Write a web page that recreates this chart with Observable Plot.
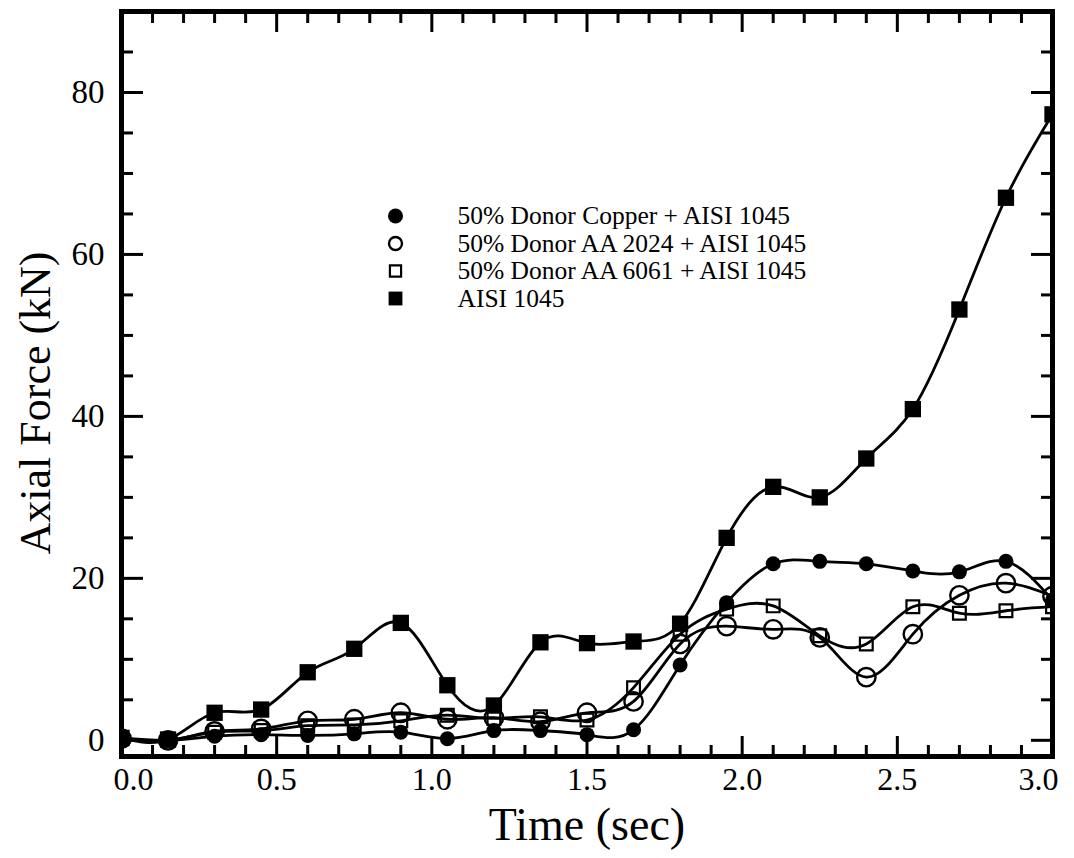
<!DOCTYPE html>
<html>
<head>
<meta charset="utf-8">
<script src="https://cdn.jsdelivr.net/npm/d3@7"></script>
<script src="https://cdn.jsdelivr.net/npm/@observablehq/plot@0.6"></script>
<style>
  html, body { margin: 0; padding: 0; background: white; }
  #chart svg { display: block; }
  #chart svg text { font-family: "Liberation Serif", "Times New Roman", serif; }
</style>
</head>
<body>
<div id="chart"></div>
<script>
// ---- data ----
const time = [0, 0.15, 0.3, 0.45, 0.6, 0.75, 0.9, 1.05, 1.2, 1.35, 1.5, 1.65, 1.8, 1.95, 2.1, 2.25, 2.4, 2.55, 2.7, 2.85, 3.0];
const copper = [0.3, 0.0, 0.5, 0.7, 0.6, 0.8, 1.0, 0.2, 1.2, 1.2, 0.7, 1.3, 9.3, 17.0, 21.8, 22.1, 21.8, 20.9, 20.8, 22.1, 17.3];
const aa2024 = [0.2, 0.0, 1.1, 1.4, 2.4, 2.6, 3.4, 2.6, 2.8, 2.3, 3.4, 4.8, 11.9, 14.1, 13.7, 12.7, 7.8, 13.1, 17.9, 19.4, 17.8];
const aa6061 = [0.2, 0.0, 1.0, 1.2, 1.8, 1.9, 2.4, 3.1, 2.7, 2.9, 2.5, 6.5, 13.1, 16.2, 16.6, 12.9, 11.9, 16.5, 15.7, 16.0, 16.5];
const aisi   = [0.3, 0.1, 3.4, 3.8, 8.4, 11.3, 14.5, 6.8, 4.3, 12.1, 12.0, 12.2, 14.4, 25.0, 31.3, 30.0, 34.8, 40.9, 53.2, 67.0, 77.3];
const seriesNames = [
  "50% Donor Copper + AISI 1045",
  "50% Donor AA 2024 + AISI 1045",
  "50% Donor AA 6061 + AISI 1045",
  "AISI 1045"
];
const seriesValues = [copper, aa2024, aa6061, aisi];
const xMajor = [0, 0.5, 1.0, 1.5, 2.0, 2.5, 3.0];
const xMinor = [0.1, 0.2, 0.3, 0.4, 0.6, 0.7, 0.8, 0.9, 1.1, 1.2, 1.3, 1.4, 1.6, 1.7, 1.8, 1.9, 2.1, 2.2, 2.3, 2.4, 2.6, 2.7, 2.8, 2.9];
const yMajor = [0, 20, 40, 60, 80];
const yMinor = [5, 10, 15, 25, 30, 35, 45, 50, 55, 65, 70, 75, 85];

// ---- styles ----
const styles = [
  {symbol: "circle", fill: "black", stroke: "none", r: 7.5, strokeWidth: 0, lr: 7.5},
  {symbol: "circle", fill: "none", stroke: "black", r: 9.2, strokeWidth: 2.4, lr: 6.5},
  {symbol: "square", fill: "none", stroke: "black", r: 7.2, strokeWidth: 2.2, lr: 6.3},
  {symbol: "square", fill: "black", stroke: "none", r: 9.2, strokeWidth: 0, lr: 7.8}
];

const rows = seriesNames.flatMap((name, s) =>
  time.map((t, i) => ({t, v: seriesValues[s][i], name, s}))
);

const FONT = "Liberation Serif";
const tickW = 3;

const marks = [];
// smooth lines
marks.push(Plot.line(rows, {x: "t", y: "v", z: "name", curve: "natural", stroke: "black", strokeWidth: 2.8, clip: true}));
// markers
seriesNames.forEach((name, s) => {
  const st = styles[s];
  marks.push(Plot.dot(rows.filter(d => d.s === s), {
    x: "t", y: "v", symbol: st.symbol, r: st.r, fill: st.fill, stroke: st.stroke,
    strokeWidth: st.strokeWidth, clip: true
  }));
});
// legend
seriesNames.forEach((name, s) => {
  const st = styles[s];
  marks.push(Plot.dot([name], {
    frameAnchor: "top-left", dx: 274, dy: 204.5 + s * 27.5,
    symbol: st.symbol, r: st.lr, fill: st.fill, stroke: st.stroke,
    strokeWidth: st.strokeWidth
  }));
  marks.push(Plot.text([name], {
    text: d => d, frameAnchor: "top-left", dx: 336, dy: 204.5 + s * 27.5,
    textAnchor: "start", lineAnchor: "middle", fontSize: 25.5, fontFamily: FONT, fill: "black"
  }));
});
// inward ticks on all four sides
for (const anchor of ["bottom", "top"]) {
  marks.push(Plot.axisX(xMajor, {anchor, tickSize: -20, strokeWidth: tickW, tickFormat: () => "", label: null}));
  marks.push(Plot.axisX(xMinor, {anchor, tickSize: -11, strokeWidth: tickW, tickFormat: () => "", label: null}));
}
for (const anchor of ["left", "right"]) {
  marks.push(Plot.axisY(yMajor, {anchor, tickSize: -22, strokeWidth: tickW, tickFormat: () => "", label: null}));
  marks.push(Plot.axisY(yMinor, {anchor, tickSize: -12, strokeWidth: tickW, tickFormat: () => "", label: null}));
}
// tick labels
const fmtX = d => d.toFixed(1);
const lab = {anchor: "bottom", tickSize: 0, tickPadding: 11, fontSize: 32, fontFamily: FONT, tickFormat: fmtX, label: null};
marks.push(Plot.axisX(xMajor.slice(1, -1), lab));
marks.push(Plot.axisX(xMajor.slice(0, 1), {...lab, dx: 12}));
marks.push(Plot.axisX(xMajor.slice(-1), {...lab, dx: -14}));
marks.push(Plot.axisY(yMajor, {anchor: "left", tickSize: 0, tickPadding: 17, fontSize: 33, fontFamily: FONT, tickFormat: d => String(d), label: null}));
// axis titles
marks.push(Plot.text(["Time (sec)"], {text: d => d, frameAnchor: "bottom", dy: 69, textAnchor: "middle", lineAnchor: "middle", fontSize: 46, fontFamily: FONT, fill: "black"}));
marks.push(Plot.text(["Axial Force (kN)"], {text: d => d, frameAnchor: "left", dx: -86, dy: 19, rotate: -90, textAnchor: "middle", lineAnchor: "middle", fontSize: 44, fontFamily: FONT, fill: "black"}));
// frame
marks.push(Plot.frame({stroke: "black", strokeWidth: 5}));

const chart = Plot.plot({
  width: 1074,
  height: 858,
  marginLeft: 121,
  marginRight: 22,
  marginTop: 11,
  marginBottom: 102,
  x: {domain: [0, 3]},
  y: {domain: [-2, 90]},
  style: {fontFamily: FONT, background: "white", color: "black", overflow: "visible"},
  marks
});
document.getElementById("chart").append(chart);
</script>
</body>
</html>
